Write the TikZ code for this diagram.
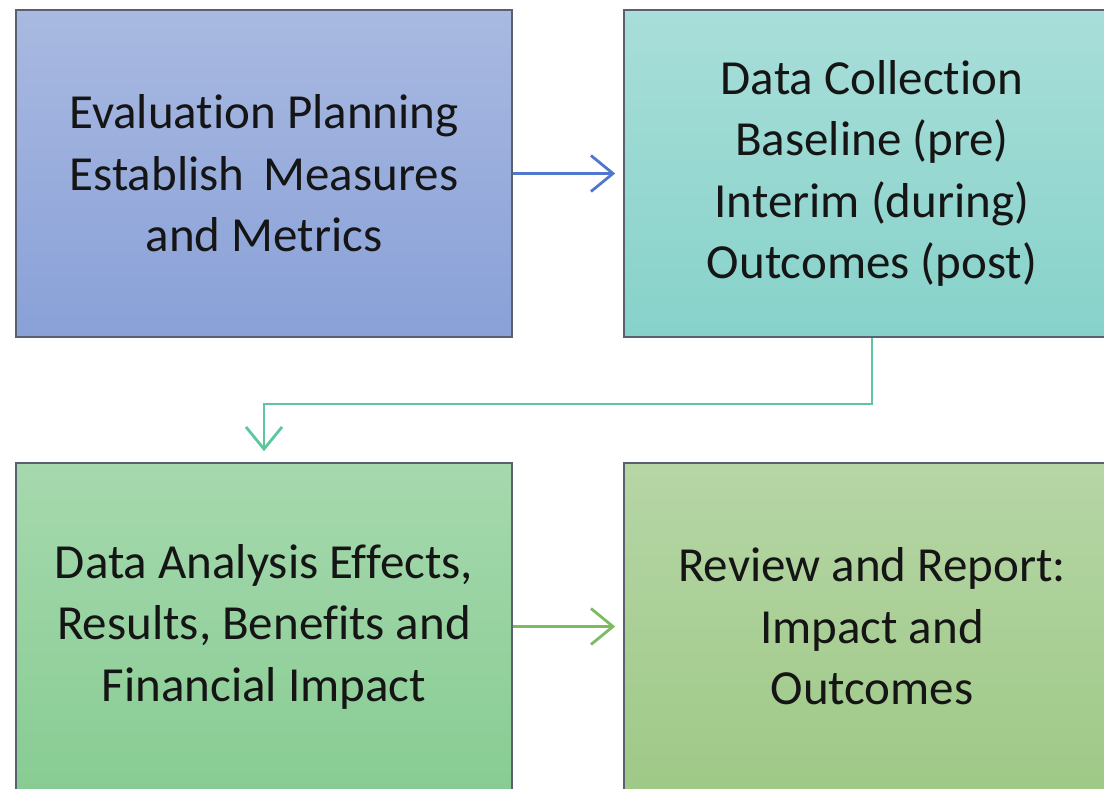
\documentclass[tikz,border=0pt]{standalone}
\usepackage{fontspec}
\setmainfont{Carlito}[Ligatures=NoCommon]
\usetikzlibrary{arrows.meta}
\definecolor{txt}{HTML}{151515}
\definecolor{bordc}{HTML}{5A6070}
\definecolor{blueA}{HTML}{A9B9E1}
\definecolor{blueB}{HTML}{89A1D8}
\definecolor{tealA}{HTML}{A9DED9}
\definecolor{tealB}{HTML}{86D2CA}
\definecolor{grnA}{HTML}{A6D9AE}
\definecolor{grnB}{HTML}{88CC93}
\definecolor{oliA}{HTML}{B6D6A6}
\definecolor{oliB}{HTML}{9FC987}
\definecolor{arrBlue}{HTML}{4F78CC}
\definecolor{arrTeal}{HTML}{5CC79C}
\definecolor{arrGreen}{HTML}{7DBB62}
\tikzset{
  box/.style={rectangle, draw=bordc, line width=1.6pt, minimum width=496pt, minimum height=327pt,
    inner sep=0pt, align=center, text=txt, font=\fontsize{49}{61.5}\selectfont},
  conn/.style={line width=2.4pt, -{Straight Barb[length=22pt,width=36pt,line width=2.8pt]}},
}
\begin{document}
\begin{tikzpicture}[x=1pt,y=-1pt]
\useasboundingbox (0,0) rectangle (1104,788);
\clip (0,0) rectangle (1104,788);
\node[box, top color=blueA, bottom color=blueB] (tl) at (264,173.5) {Evaluation Planning\\Establish\, Measures\\and Metrics};
\node[box, top color=tealA, bottom color=tealB] (tr) at (872,173.5) {Data Collection\\Baseline (pre)\\Interim (during)\\Outcomes (post)};
\node[box, top color=grnA, bottom color=grnB] (bl) at (264,626.5) {Data Analysis Effects,\\Results, Benefits and\\Financial Impact};
\node[box, top color=oliA, bottom color=oliB] (br) at (872,626.5) {Review and Report:\\Impact and\\Outcomes};
\draw[conn, draw=arrBlue, shorten >=8pt] (tl.east) -- (tr.west);
\draw[conn, draw=arrTeal, shorten >=11pt, line width=2pt] (tr.south) -- ++(0,66) -| (bl.north);
\draw[conn, draw=arrGreen, shorten >=8pt] (bl.east) -- (br.west);
\end{tikzpicture}
\end{document}
